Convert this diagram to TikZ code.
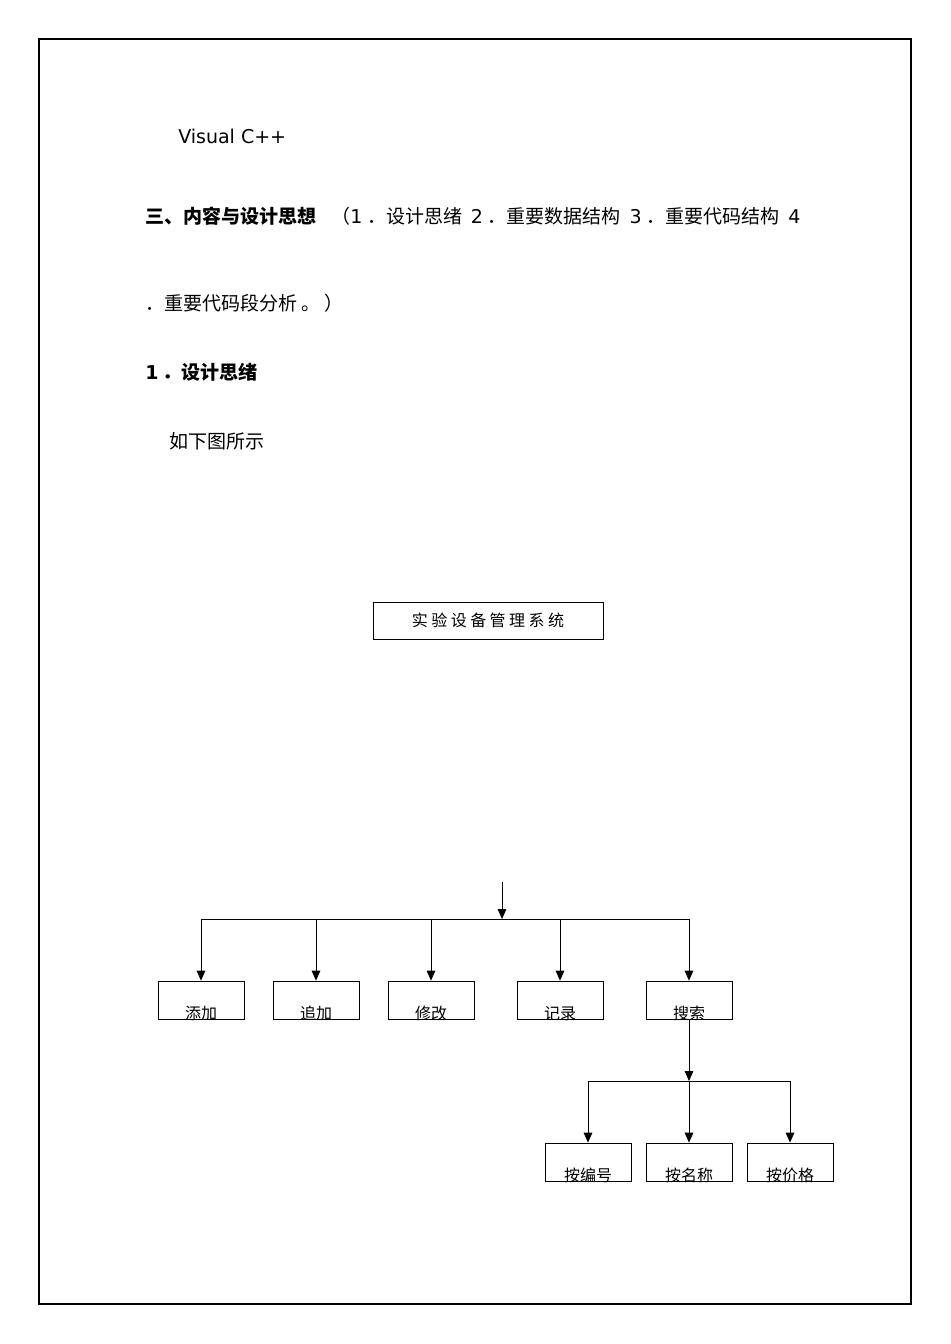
\documentclass[tikz,border=0pt]{standalone}
\usepackage{fontspec}
\usetikzlibrary{arrows.meta}
\setmainfont{Noto Sans CJK SC}
\newfontfamily\latinfont{DejaVu Sans}
\newcommand{\bodyfont}{\fontsize{14.25pt}{17pt}\selectfont}
\newcommand{\boxfont}{\fontsize{12pt}{14pt}\selectfont}
\newcommand{\lt}[1]{{\latinfont #1}}
\newcommand{\gp}{\hspace{3.5pt}}
\tikzset{
  body/.style={anchor=west, inner sep=0pt, font=\bodyfont},
  headbf/.style={anchor=west, inner sep=0pt, font=\bodyfont\bfseries},
  leafbox/.style={draw, line width=0.6pt, minimum width=64.5pt, inner xsep=0pt, inner ysep=0pt, text height=28.5pt, text depth=0pt, font=\boxfont},
  arr/.style={-{Triangle[length=7.5pt,width=6.5pt]}, line width=0.6pt},
  ln/.style={line width=0.6pt}
}
\begin{document}
\begin{tikzpicture}[x=0.75pt,y=-0.75pt]
\useasboundingbox (0,0) rectangle (950,1344);
\draw[line width=1.5pt] (39,39) rectangle (911,1304);
% text
\node[body, font=\latinfont\fontsize{14.25pt}{17pt}\selectfont] (vc) at (178,136) {Visual C++};
\node[headbf] (h3) at (145,216) {三、内容与设计思想};
\node[body] (h3b) at (331,216) {（\lt{1}\gp ．设计思绪\gp\ \lt{2}\gp ．重要数据结构\gp\ \lt{3}\gp ．重要代码结构\gp\ \lt{4}};
\node[body] (h3c) at (145,303) {．重要代码段分析 。 ）};
\node[headbf] (h1) at (145,372) {\lt{1} ．设计思绪};
\node[body] (fig) at (169,441) {如下图所示};
% diagram
\node[draw, line width=0.6pt, minimum width=172.5pt, minimum height=27.75pt, inner sep=0pt, font=\boxfont] (root) at (488,620.5)
  {实\hspace{2.6pt}验\hspace{2.6pt}设\hspace{2.6pt}备\hspace{2.6pt}管\hspace{2.6pt}理\hspace{2.6pt}系\hspace{2.6pt}统};
\node[leafbox] (add) at (201,1000) {添加};
\node[leafbox] (app) at (316,1000) {追加};
\node[leafbox] (mod) at (431,1000) {修改};
\node[leafbox] (rec) at (560,1000) {记录};
\node[leafbox] (sea) at (689,1000) {搜索};
\node[leafbox] (bnum) at (588,1162) {按编号};
\node[leafbox] (bname) at (689,1162) {按名称};
\node[leafbox] (bprice) at (790,1162) {按价格};
\coordinate (top) at (502,882);
\coordinate (bus) at (502,919);
\draw[arr] (top) -- (bus);
\draw[ln] (add.north |- bus) -- (sea.north |- bus);
\foreach \n in {add,app,mod,rec,sea} \draw[arr] (\n.north |- bus) -- (\n.north);
\coordinate (bus2) at (689,1081);
\draw[arr] (sea.south) -- (bus2);
\draw[ln] (bnum.north |- bus2) -- (bprice.north |- bus2);
\foreach \n in {bnum,bname,bprice} \draw[arr] (\n.north |- bus2) -- (\n.north);
\end{tikzpicture}
\end{document}
